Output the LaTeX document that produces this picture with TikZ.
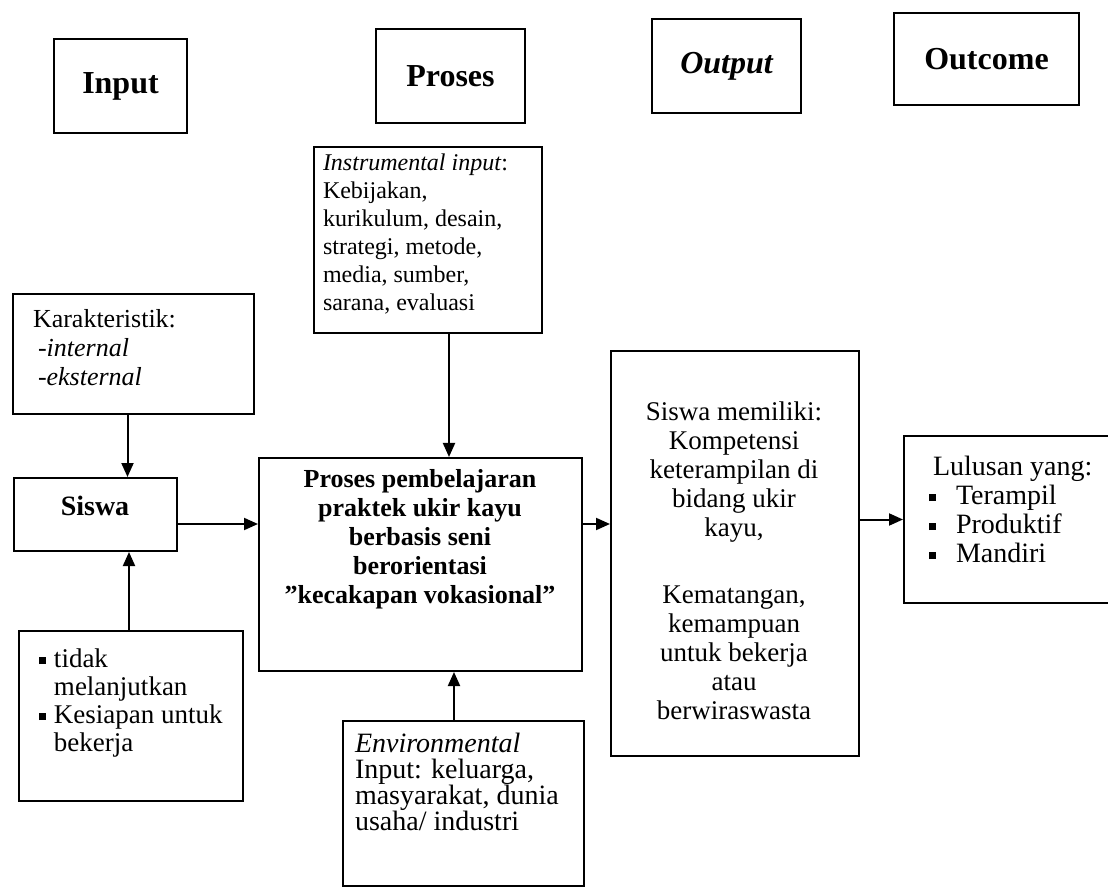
\documentclass[tikz,border=0pt]{standalone}
\usepackage{fontspec}
\setmainfont{Liberation Serif}
\usetikzlibrary{arrows.meta, positioning}

\newcommand{\sqb}{\rule[1.5pt]{3.5pt}{3.5pt}}

\begin{document}
\begin{tikzpicture}[x=0.5pt, y=-0.5pt, >={Triangle[length=7pt,width=6pt]}, line width=1pt,
	box/.style={draw, line width=1pt, inner sep=0pt, anchor=north west},
	hdr/.style={box, font=\fontsize{16}{18}\selectfont\bfseries},
	txt/.style={inner sep=0pt, align=left, anchor=base west, font=\fontsize{13}{14.5}\selectfont}]
		\useasboundingbox (0,0) rectangle (1108,887);

		% judul kolom
		\node[hdr, minimum width=66.5pt, minimum height=47pt] (hinput) at (53,38) {Input};
		\node[hdr, minimum width=74.5pt, minimum height=47pt] (hproses) at (375,28) {Proses};
		\node[hdr, minimum width=74.5pt, minimum height=47pt] (houtput) at (651,18) {\itshape Output};
		\node[hdr, minimum width=92.5pt, minimum height=46pt] (houtcome) at (893,12) {Outcome};

		% kotak
		\node[box, minimum width=120.5pt, minimum height=60pt] (kar) at (12,293) {};
		\node[box, minimum width=81.5pt, minimum height=36.5pt] (siswa) at (13,477) {};
		\node[box, minimum width=112pt, minimum height=85pt] (ket) at (18,630) {};
		\node[box, minimum width=114pt, minimum height=93pt] (instr) at (313,146) {};
		\node[box, minimum width=161.5pt, minimum height=106.5pt] (proc) at (258,457) {};
		\node[box, minimum width=120.5pt, minimum height=82.5pt] (env) at (342,720) {};
		\node[box, minimum width=124pt, minimum height=202.5pt] (outb) at (610,350) {};
		\node[box, minimum width=106pt, minimum height=83.5pt] (lul) at (903,435) {};

		% teks (base = garis dasar baris terakhir)
		\node[txt] (karT) at (32,386) {Karakteristik:\\ \hspace{2.5pt}\textit{-internal}\\ \hspace{2.5pt}\textit{-eksternal}};
		\node[txt, anchor=base, font=\fontsize{14}{16}\selectfont\bfseries] (siswaT) at (95,515) {Siswa};
		\node[txt, font=\fontsize{13.5}{14}\selectfont] (ketT) at (53,751) {\llap{\sqb\hspace{4pt}}tidak\\ melanjutkan\\ \llap{\sqb\hspace{4pt}}Kesiapan untuk\\ bekerja};
		\node[txt, font=\fontsize{12}{14}\selectfont] (instrT) at (322,311) {\textit{Instrumental input}:\\ Kebijakan,\\ kurikulum, desain,\\ strategi, metode,\\ media, sumber,\\ sarana, evaluasi};
		\node[txt, anchor=base, align=center, font=\fontsize{13}{14.5}\selectfont\bfseries] (procT) at (420,603) {Proses pembelajaran\\ praktek ukir kayu\\ berbasis seni\\ berorientasi\\ ”kecakapan vokasional”};
		\node[txt, font=\fontsize{14}{13}\selectfont] (envT) at (354,830) {\textit{Environmental}\\ Input: keluarga,\\ masyarakat, dunia\\ usaha/ industri};
		\node[txt, anchor=base, align=center, font=\fontsize{13.5}{14.5}\selectfont] (outT) at (734,719) {Siswa memiliki:\\ Kompetensi\\ keterampilan di\\ bidang ukir\\ kayu,\\[19pt] Kematangan,\\ kemampuan\\ untuk bekerja\\ atau\\ berwiraswasta};
		\node[txt, font=\fontsize{14}{14.5}\selectfont] (lulT) at (932,562) {Lulusan yang:\\ \hspace{-2pt}\sqb\hspace{10pt}Terampil\\ \hspace{-2pt}\sqb\hspace{10pt}Produktif\\ \hspace{-2pt}\sqb\hspace{10pt}Mandiri};

		% panah
		\coordinate (k1) at ([xshift=-3pt]kar.south);
		\coordinate (k2) at ([xshift=-1pt]ket.north);
		\coordinate (s1) at ([yshift=-4.75pt]siswa.east);
		\coordinate (i1) at ([xshift=10.5pt]instr.south);
		\coordinate (e1) at ([xshift=-4.75pt]env.north);
		\coordinate (p1) at ([yshift=20.25pt]proc.east);
		\draw[->] (k1) -- (k1 |- siswa.north);
		\draw[->] (k2) -- (k2 |- siswa.south);
		\draw[->] (s1) -- (s1 -| proc.west);
		\draw[->] (i1) -- (i1 |- proc.north);
		\draw[->] (e1) -- (e1 |- proc.south);
		\draw[->] (p1) -- (p1 -| outb.west);
		\draw[->] (outb.east |- lul.west) -- (lul.west);
	\end{tikzpicture}
\end{document}
